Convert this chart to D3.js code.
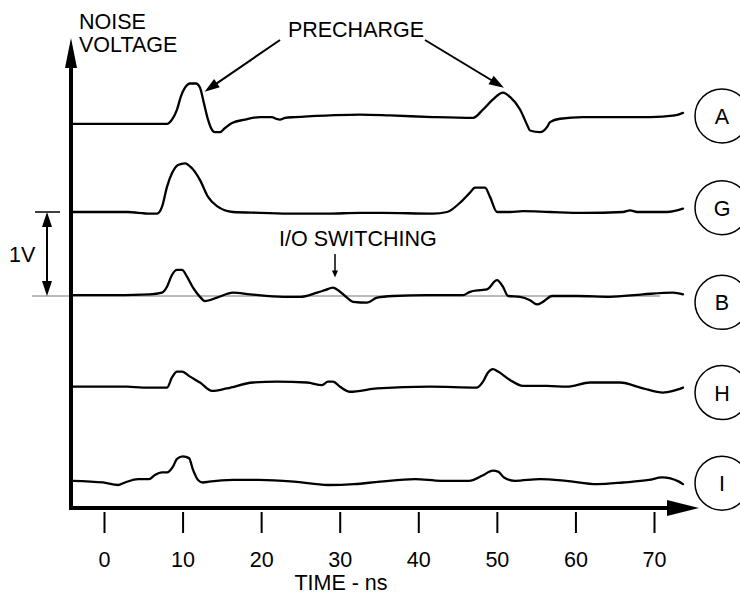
<!DOCTYPE html>
<html>
<head>
<meta charset="utf-8">
<script src="https://cdn.jsdelivr.net/npm/d3@7"></script>
<style>
  body { margin: 0; background: #fff; }
  text { font-family: "Liberation Sans", Arial, Helvetica, sans-serif; fill: #000; }
</style>
</head>
<body>
<svg id="chart" width="740" height="595"></svg>
<script>
// Noise traces per channel: [time ns, volts relative to the channel's own baseline]
const channels = ["A", "G", "B", "H", "I"];
const offsets = [2.05, 1.0, 0, -1.08, -2.2];   // vertical stacking, volts
const timeTicks = [0, 10, 20, 30, 40, 50, 60, 70];

const traceA = [
  [-3.95, 0], [8.02, 0], [8.65, 0.05], [9.29, 0.17], [9.8, 0.33], [10.31, 0.43],
  [10.95, 0.48], [11.71, 0.48], [12.22, 0.43], [12.73, 0.24], [13.24, 0.05],
  [13.62, -0.05], [14.13, -0.10], [14.76, -0.10], [15.4, -0.05], [16.29, 0.01],
  [17.95, 0.05], [19.85, 0.08], [21.38, 0.08], [21.89, 0.06], [22.4, 0.05],
  [23.04, 0.07], [24.31, 0.08], [28.76, 0.10], [32.58, 0.11], [36.4, 0.10],
  [41.87, 0.08], [46.96, 0.07], [48.24, 0.17], [49.51, 0.29], [50.78, 0.37],
  [51.67, 0.32], [52.95, 0.17], [53.84, -0.01], [54.22, -0.08], [55.49, -0.10],
  [56.38, -0.04], [56.77, 0.02], [58.04, 0.06], [60.97, 0.08], [69.49, 0.08],
  [72.68, 0.10], [73.69, 0.13]
];
const traceG = [
  [-3.95, 0], [2.93, 0], [5.85, -0.02], [6.75, -0.02], [7.38, 0.06], [8.02, 0.30],
  [8.65, 0.46], [9.42, 0.56], [10.31, 0.58], [11.2, 0.52], [12.22, 0.38],
  [13.24, 0.18], [14.38, 0.07], [16.42, 0], [19.85, -0.01], [24.06, -0.02],
  [28.38, -0.02], [32.58, -0.01], [35.51, -0.01], [41.87, -0.02], [43.66, 0],
  [45.31, 0.11], [46.58, 0.23], [47.22, 0.29], [48.49, 0.29], [49.13, 0.18],
  [50.02, 0], [51.67, 0], [53.33, 0.01], [56.77, 0], [60.97, -0.01], [66.06, 0],
  [66.95, 0.02], [67.84, 0], [71.66, 0], [73.69, 0.04]
];
const traceB = [
  [-3.95, 0.01], [-0.51, 0.01], [5.85, 0.02], [7.38, 0.04], [8.02, 0.11],
  [8.65, 0.25], [9.29, 0.31], [9.93, 0.31], [10.56, 0.23], [11.33, 0.10],
  [12.22, -0.01], [12.85, -0.06], [14.38, -0.02], [16.42, 0.04], [18.58, 0.02],
  [22.78, -0.01], [24.95, -0.01], [27.11, 0.04], [28.13, 0.07], [29.15, 0.10],
  [30.04, 0.05], [30.93, -0.02], [31.69, -0.07], [33.47, -0.08], [34.75, -0.02],
  [36.78, 0], [41.11, 0.01], [45.69, 0.01], [46.58, 0.05], [47.86, 0.07],
  [48.75, 0.08], [50.02, 0.19], [50.78, 0.11], [51.42, 0], [52.95, -0.01],
  [54.22, -0.05], [55.11, -0.10], [55.87, -0.07], [57.02, 0], [60.2, 0],
  [64.4, -0.01], [68.6, 0.02], [72.42, 0.04], [73.69, 0.02]
];
const traceH = [
  [-3.95, 0], [2.93, 0], [4.96, -0.01], [8.02, -0.01], [8.65, 0.11], [9.29, 0.18],
  [9.93, 0.18], [10.95, 0.12], [12.22, 0.05], [13.75, -0.05], [15.65, -0.02],
  [18.96, 0.05], [22.02, 0.06], [25.84, 0.05], [27.75, 0.02], [28.51, 0.06],
  [29.15, 0.06], [30.04, 0], [31.31, -0.06], [34.75, -0.02], [41.49, 0],
  [47.47, -0.01], [48.24, 0.06], [48.87, 0.17], [49.51, 0.21], [50.15, 0.18],
  [51.67, 0.08], [53.33, 0.01], [56.38, 0.01], [58.93, 0], [61.86, 0.05],
  [65.67, 0.05], [68.6, -0.02], [71.15, -0.07], [72.42, -0.05], [73.69, -0.01]
];
const traceI = [
  [-3.95, 0], [-0.13, -0.02], [1.78, -0.05], [2.67, -0.02], [4.33, 0.02],
  [5.73, 0.02], [6.49, 0.07], [7.38, 0.10], [8.02, 0.10], [8.78, 0.17],
  [9.29, 0.26], [10.05, 0.29], [10.82, 0.27], [11.33, 0.13], [11.96, 0.01],
  [12.6, -0.02], [13.36, -0.01], [16.42, 0.01], [19.73, 0.01], [24.18, -0.01],
  [28.51, -0.05], [31.82, -0.04], [35.13, -0.01], [39.58, 0.02], [42.89, 0],
  [46.46, 0], [48.11, 0.06], [49.51, 0.12], [50.15, 0.11], [50.91, 0.04],
  [52.31, 0], [55.49, 0.02], [58.8, 0], [62.75, -0.04], [66.06, -0.02],
  [69.37, 0.01], [71.02, 0.04], [73.18, -0.01], [73.69, -0.04]
];
const traces = [traceA, traceG, traceB, traceH, traceI];

const svg = d3.select("#chart");
const FONT = 21.5;

const x = d3.scaleLinear().domain([0, 70]).range([104, 654]);
const y = d3.scaleLinear().domain([-2.5, 3]).range([506, 44]);   // 84 px per volt

// filled triangular arrowhead with its tip at (x2, y2), pointing along (x1,y1)->(x2,y2)
function arrowHead(x1, y1, x2, y2, len, half) {
  const a = Math.atan2(y2 - y1, x2 - x1);
  const bx = x2 - len * Math.cos(a), by = y2 - len * Math.sin(a);
  const px = -Math.sin(a) * half, py = Math.cos(a) * half;
  svg.append("path")
    .attr("d", `M${x2},${y2}L${bx + px},${by + py}L${bx - px},${by - py}Z`)
    .attr("fill", "#000");
}
function arrow(x1, y1, x2, y2, len, half, width) {
  const a = Math.atan2(y2 - y1, x2 - x1);
  svg.append("line")
    .attr("x1", x1).attr("y1", y1)
    .attr("x2", x2 - (len - 2) * Math.cos(a)).attr("y2", y2 - (len - 2) * Math.sin(a))
    .attr("stroke", "#000").attr("stroke-width", width);
  arrowHead(x1, y1, x2, y2, len, half);
}

// zero reference line under channel B
svg.append("line")
  .attr("x1", 32).attr("x2", 660)
  .attr("y1", y(0)).attr("y2", y(0))
  .attr("stroke", "#777").attr("stroke-width", 1);

// axes
arrow(71, 510, 71, 38, 30, 6, 4);
arrow(69, 508, 699, 508, 32, 8, 4);

const xAxis = svg.append("g")
  .attr("transform", "translate(0,512)")
  .call(d3.axisBottom(x).tickValues(timeTicks).tickSize(21).tickPadding(19).tickFormat(d3.format("d")));
xAxis.select(".domain").remove();
xAxis.selectAll(".tick line").attr("stroke", "#000").attr("stroke-width", 2);
xAxis.selectAll(".tick text")
  .style("font-family", '"Liberation Sans", Arial, sans-serif')
  .style("font-size", FONT + "px").attr("fill", "#000");

svg.append("text").attr("x", 341).attr("y", 590).attr("text-anchor", "middle")
  .style("font-size", FONT + "px").text("TIME - ns");

svg.append("text").attr("x", 79).attr("y", 29).style("font-size", FONT + "px").text("NOISE");
svg.append("text").attr("x", 79).attr("y", 52).style("font-size", FONT + "px").text("VOLTAGE");

// 1 V scale bar between the G and B baselines
svg.append("line").attr("x1", 35).attr("x2", 60).attr("y1", y(1)).attr("y2", y(1))
  .attr("stroke", "#000").attr("stroke-width", 1.5);
svg.append("line").attr("x1", 47).attr("x2", 47).attr("y1", y(1) + 12).attr("y2", y(0) - 12)
  .attr("stroke", "#000").attr("stroke-width", 2);
arrowHead(47, y(0.5), 47, y(1), 15, 5);
arrowHead(47, y(0.5), 47, y(0), 15, 5);
svg.append("text").attr("x", 9).attr("y", 262).style("font-size", FONT + "px").text("1V");

// traces
const line = d3.line().curve(d3.curveMonotoneX);
traces.forEach((tr, i) => {
  svg.append("path")
    .attr("d", line(tr.map(d => [x(d[0]), y(d[1] + offsets[i])])))
    .attr("fill", "none").attr("stroke", "#000")
    .attr("stroke-width", 2.3).attr("stroke-linejoin", "round").attr("stroke-linecap", "round");
});

// channel labels at the trace ends
channels.forEach((c, i) => {
  const last = traces[i][traces[i].length - 1];
  const cy = y(last[1] + offsets[i]) + [3, -1, 8, 5, -1][i];
  svg.append("circle").attr("cx", 722).attr("cy", cy).attr("r", 27)
    .attr("fill", "none").attr("stroke", "#000").attr("stroke-width", 1.5);
  svg.append("text").attr("x", 722).attr("y", cy + 8).attr("text-anchor", "middle")
    .style("font-size", FONT + "px").text(c);
});

// annotations
svg.append("text").attr("x", 356).attr("y", 37).attr("text-anchor", "middle")
  .style("font-size", FONT + "px").text("PRECHARGE");
arrow(280, 40, x(12.8), y(0.43 + offsets[0]) + 4, 15, 5, 2);
arrow(425, 40, x(50.9), y(0.37 + offsets[0]) - 5, 15, 5, 2);

svg.append("text").attr("x", 279).attr("y", 246).style("font-size", FONT + "px").text("I/O SWITCHING");
arrow(335, 254, 335, y(0.10) - 10, 7, 3, 1.5);
</script>
</body>
</html>
